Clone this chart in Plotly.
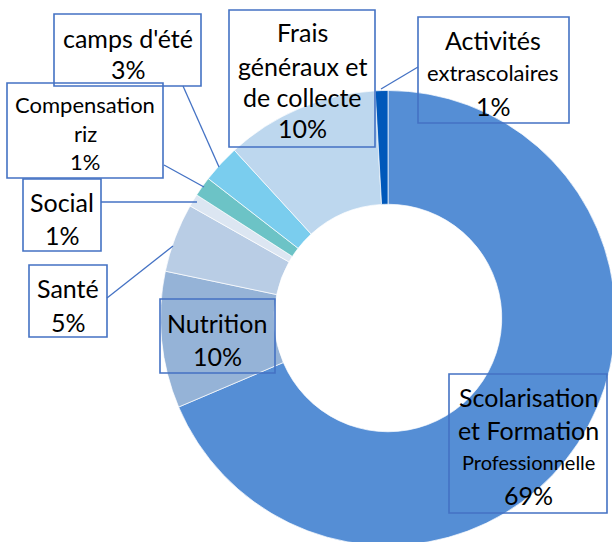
import plotly.graph_objects as go

W, H = 616, 546  # slightly larger than the window; overflow hidden so the ring is clipped at the bottom/right like the reference

categories = ["Scolarisation et Formation Professionnelle", "Nutrition", "Santé", "Social",
              "Compensation riz", "camps d'été", "Frais généraux et de collecte",
              "Activités extrascolaires"]
values = [68.6, 9.7, 4.9, 0.9, 1.4, 2.7, 10.9, 0.9]
pct_labels = ["69%", "10%", "5%", "1%", "1%", "3%", "10%", "1%"]
colors = ["#558ED5", "#95B3D7", "#B9CDE5", "#DCE6F2", "#6CC3C6", "#7ACDEE", "#BDD7EE", "#0058BA"]

CX, CY, D = 388, 318, 455  # pie centre and domain size in pixels

fig = go.Figure(go.Pie(
    labels=categories, values=values, hole=0.5, sort=False, direction="clockwise",
    rotation=0, textinfo="none", hoverinfo="label+percent",
    marker=dict(colors=colors, line=dict(color="white", width=0.7)),
    domain=dict(x=[(CX - D / 2) / W, min(1.0, (CX + D / 2) / W)],
                y=[max(0.0, 1 - (CY + D / 2) / H), 1 - (CY - D / 2) / H]),
    showlegend=False,
))

FONT = "Lato, Carlito, Calibri, sans-serif"
BOX = "#4472C4"

def px(x):
    return x / W

def py(y):
    return 1 - y / H

shapes = []
annotations = []

def box(x0, y0, x1, y1):
    shapes.append(dict(type="rect", xref="paper", yref="paper",
                       x0=px(x0), x1=px(x1), y0=py(y1), y1=py(y0),
                       line=dict(color=BOX, width=1.6), fillcolor="rgba(0,0,0,0)"))

def line(x0, y0, x1, y1):
    shapes.append(dict(type="line", xref="paper", yref="paper",
                       x0=px(x0), x1=px(x1), y0=py(y0), y1=py(y1),
                       line=dict(color=BOX, width=1.3)))

def text(t, x, y, size=25):
    annotations.append(dict(text=t, x=px(x), y=py(y), xref="paper", yref="paper",
                            xanchor="center", yanchor="middle", showarrow=False,
                            font=dict(family=FONT, size=size, color="black")))

# camps d'été
box(54, 14, 201, 86)
text("camps d'été", 128, 38)
text(pct_labels[5], 128, 69)
line(183, 86, 219, 167)

# Compensation riz
box(7, 83, 163, 178)
text("Compensation", 85, 105, 22)
text("riz", 85, 133, 22)
text(pct_labels[4], 85, 161, 22)
line(164, 165, 204, 187)

# Social
box(23, 179, 101, 251)
text("Social", 62, 202)
text(pct_labels[3], 62, 235)
line(101, 202, 197, 202)

# Santé
box(29, 265, 107, 337)
text("Santé", 68, 288)
text(pct_labels[2], 68, 322)
line(107, 298, 173, 246)

# Nutrition
box(160, 299, 275, 373)
text("Nutrition", 217, 323)
text(pct_labels[1], 217, 356)

# Frais généraux
box(229, 10, 375, 147)
text("Frais", 302, 32)
text("généraux et", 302, 66)
text("de collecte", 302, 97)
text(pct_labels[6], 302, 128)

# Activités extrascolaires
box(418, 17, 569, 123)
text("Activités", 493, 40)
text("extrascolaires", 493, 73, 22)
text(pct_labels[7], 493, 106)
line(381, 89, 418, 67)

# Scolarisation
box(449, 374, 607, 513)
text("Scolarisation", 528, 397)
text("et Formation", 528, 430)
text("Professionnelle", 528, 462, 20)
text(pct_labels[0], 528, 495)

fig.update_layout(
    width=W, height=H, margin=dict(l=0, r=0, t=0, b=0),
    paper_bgcolor="white", plot_bgcolor="white",
    shapes=shapes, annotations=annotations,
)

fig.write_html(
    "out.html",
    config={"displayModeBar": False},
    post_script="document.body.style.margin='0';document.body.style.overflow='hidden';"
                "document.documentElement.style.overflow='hidden';",
)
